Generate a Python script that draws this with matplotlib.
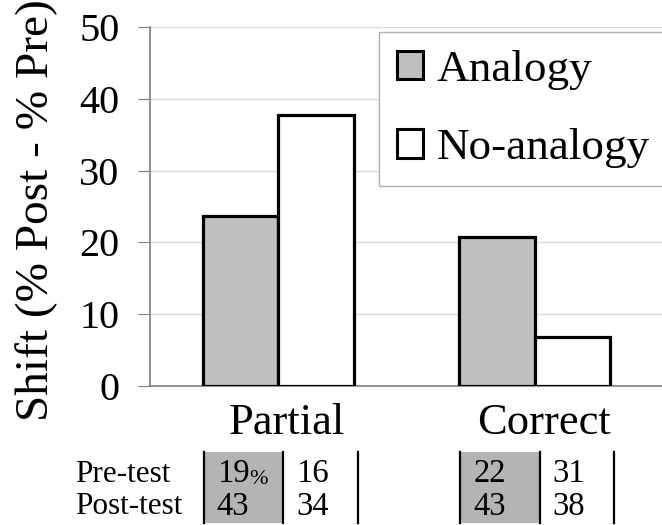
import matplotlib.pyplot as plt
import matplotlib.transforms as mtransforms
from matplotlib.patches import Patch, Rectangle
import numpy as np

plt.rcParams['font.family'] = ['Liberation Serif', 'DejaVu Serif']

categories = ['Partial', 'Correct']
analogy = [23.7, 20.8]
no_analogy = [37.8, 6.8]
series_names = ['Analogy', 'No-analogy']

row_labels = ['Pre-test', 'Post-test']
pre_analogy = ['19', '22']
post_analogy = ['43', '43']
pre_no_analogy = ['16', '31']
post_no_analogy = ['34', '38']

grey = '#c0c0c0'
cell_grey = '#b4b4b4'

fig = plt.figure(figsize=(6.62, 5.25), dpi=100)
ax = fig.add_axes([150 / 662, 1 - 386 / 525, 513 / 662, 359 / 525])

x = np.arange(len(categories))
w = 0.295
ax.bar(x - w / 2, analogy, w, color=grey, edgecolor='black', linewidth=2.3, zorder=3)
ax.bar(x + w / 2, no_analogy, w, color='white', edgecolor='black', linewidth=2.3, zorder=3)

ax.set_xlim(-0.5, 1.5)
ax.set_ylim(0, 50)
ax.set_yticks(range(0, 51, 10))
ax.yaxis.grid(True, color='#d9d9d9', linewidth=1.0, zorder=0)
ax.set_xticks(x)
ax.set_xticklabels(categories, fontsize=32)
ax.tick_params(axis='x', length=0, pad=12)
ax.tick_params(axis='y', labelsize=29, length=9, color='#808080', pad=13)
for lab in ax.get_xticklabels():
    lab.set_transform(lab.get_transform() + mtransforms.ScaledTranslation(9 / 100, 0, fig.dpi_scale_trans))

for s in ['top', 'right']:
    ax.spines[s].set_visible(False)
ax.spines['left'].set_color('#808080')
ax.spines['bottom'].set_color('#808080')
ax.spines['left'].set_linewidth(1.2)
ax.spines['bottom'].set_linewidth(1.2)

ax.set_ylabel('Shift (% Post - % Pre)', fontsize=34)
ax.yaxis.set_label_coords(-0.18, 0.49)

handles = [Patch(facecolor=grey, edgecolor='black', linewidth=2.2),
           Patch(facecolor='white', edgecolor='black', linewidth=2.2)]
leg = fig.legend(handles, series_names, loc='upper left',
                 bbox_to_anchor=(379 / 662, 1 - 32 / 525), fontsize=32.5,
                 handlelength=0.58, handleheight=0.58, handletextpad=0.3,
                 labelspacing=0.85, borderpad=0.4, borderaxespad=0,
                 fancybox=False, framealpha=1, edgecolor='#b0b0b0')
leg.get_frame().set_linewidth(1.0)

# table under the chart
tr = mtransforms.blended_transform_factory(ax.transData, fig.transFigure)
row_y = [1 - 474 / 525, 1 - 507 / 525]
cell_bottom, cell_top = 1 - 523 / 525, 1 - 452 / 525
edges = [-0.29, 0.02, 0.31]
for i in range(len(categories)):
    c = x[i]
    ax.add_patch(Rectangle((c + edges[0], cell_bottom), edges[1] - edges[0], cell_top - cell_bottom,
                           transform=tr, facecolor=cell_grey, edgecolor='none', clip_on=False))
    for e in edges:
        ax.plot([c + e, c + e], [cell_bottom, cell_top], transform=tr, color='black',
                linewidth=1.6, clip_on=False)
    cols = [(pre_analogy[i], post_analogy[i]), (pre_no_analogy[i], post_no_analogy[i])]
    for j, (pre, post) in enumerate(cols):
        tx = c + edges[j] + 0.05
        t = ax.text(tx, row_y[0], pre, transform=tr, fontsize=23.5, va='center', ha='left')
        if i == 0 and j == 0:
            ax.annotate('%', xy=(1, 0), xycoords=t, fontsize=16, va='bottom', ha='left')
        ax.text(tx, row_y[1], post, transform=tr, fontsize=23.5, va='center', ha='left')

for k, lab in enumerate(row_labels):
    fig.text(75 / 662, row_y[k], lab, fontsize=22.5, va='center', ha='left')

fig.savefig('out.png', dpi=100)
